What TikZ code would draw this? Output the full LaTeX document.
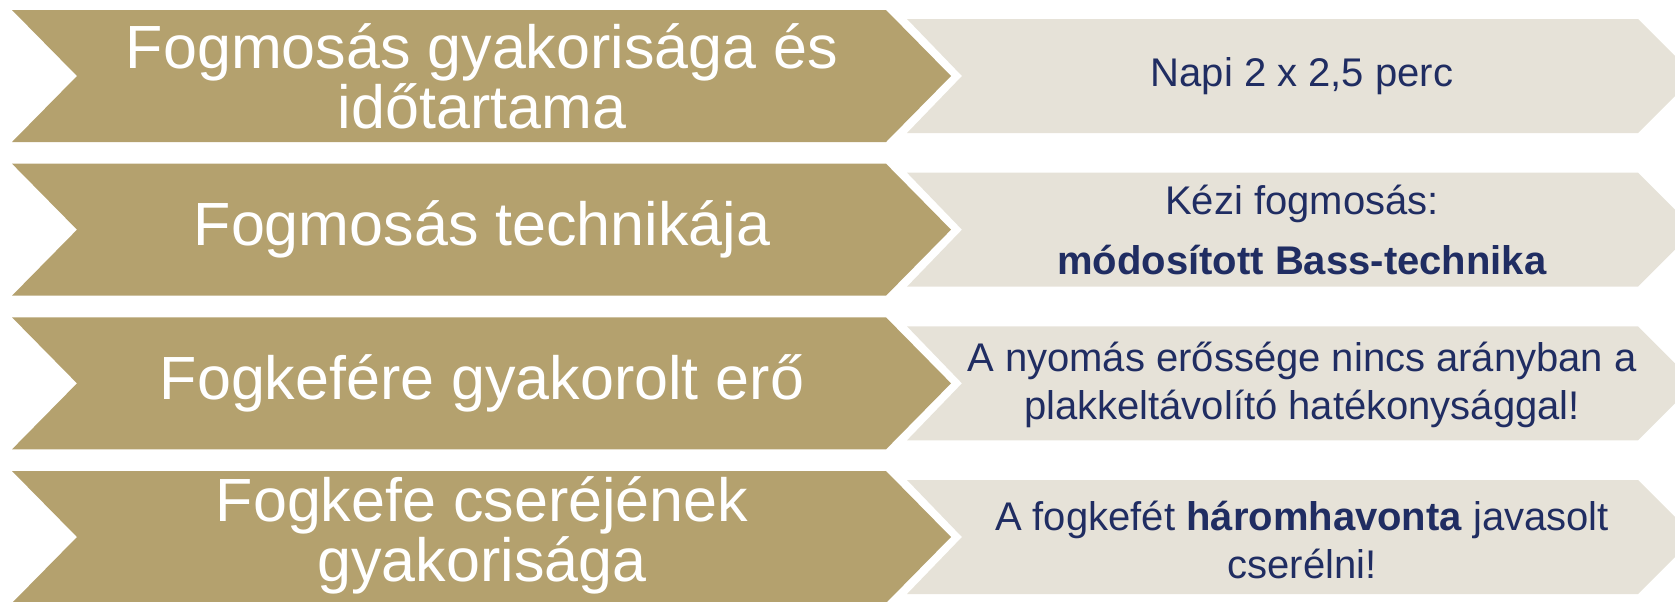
\documentclass[tikz,border=0pt]{standalone}
\usepackage{fontspec}
\setmainfont{Liberation Sans}
\definecolor{gold}{RGB}{180,161,110}
\definecolor{pale}{RGB}{230,226,216}
\definecolor{navy}{RGB}{32,45,98}
\begin{document}
\begin{tikzpicture}[x=0.6pt,y=-0.6pt,
  goldarrow/.style={fill=gold,draw=none},
  palearrow/.style={fill=pale,draw=none},
  lefttext/.style={text=white,align=center,inner sep=0pt,font=\fontsize{36.6}{36}\selectfont},
  righttext/.style={text=navy,align=center,inner sep=0pt,font=\fontsize{24}{28.8}\selectfont}]
\useasboundingbox (0,0) rectangle (1675,601);
\clip (0,0) rectangle (1675,601);
\foreach \t [count=\i] in {10,163.67,317.33,471}{
  \fill[goldarrow] (12,\t) -- (886,\t) -- (951,\t+66) -- (886,\t+132) -- (12,\t+132) -- (77,\t+66) -- cycle;
  \fill[palearrow] (907,\t+9) -- (1638,\t+9) -- (1695,\t+66) -- (1638,\t+123) -- (907,\t+123) -- (962,\t+66) -- cycle;
}
\node[lefttext] (l1) at (482,76) {Fogmosás gyakorisága és\\időtartama};
\node[lefttext] (l2) at (482,229.7) {Fogmosás technikája};
\node[lefttext] (l3) at (482,383.3) {Fogkefére gyakorolt erő};
\node[lefttext] (l4) at (482,535) {Fogkefe cseréjének\\gyakorisága};
\node[righttext] (r1) at (1302,76) {Napi 2 x 2,5 perc};
\node[righttext,font=\fontsize{24}{36}\selectfont] (r2) at (1302,229.7) {Kézi fogmosás:\\\textbf{módosított Bass-technika}};
\node[righttext] (r3) at (1302,385) {A nyomás erőssége nincs arányban a\\plakkeltávolító hatékonysággal!};
\node[righttext] (r4) at (1302,540) {A fogkefét \textbf{háromhavonta} javasolt\\cserélni!};
\end{tikzpicture}
\end{document}
